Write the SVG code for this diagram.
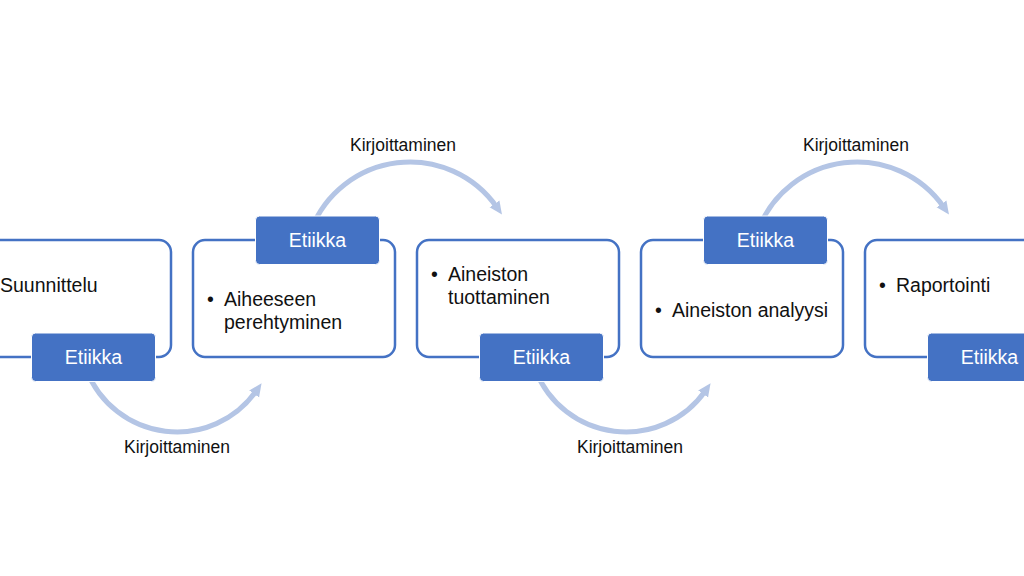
<svg xmlns="http://www.w3.org/2000/svg" width="1024" height="576" viewBox="0 0 1024 576">
<style>
.box{fill:#fff;stroke:#4472C4;stroke-width:2.5}
.tab{fill:#4472C4;stroke:#fff;stroke-width:1}
.tabt{font-family:"Liberation Sans",Arial,sans-serif;font-size:19.5px;fill:#fff;text-anchor:middle}
.t{font-family:"Liberation Sans",Arial,sans-serif;font-size:19.5px;fill:#111}
.lbl{font-family:"Liberation Sans",Arial,sans-serif;font-size:17.5px;fill:#111;text-anchor:middle}
.arc{fill:none;stroke:#B4C5E5;stroke-width:5}
</style>
<defs>
<marker id="ah" markerUnits="userSpaceOnUse" markerWidth="14" markerHeight="14" refX="4" refY="7" orient="auto">
<path d="M0,1 L13,7 L0,13 z" fill="#B4C5E5"/>
</marker>
</defs>
<rect width="1024" height="576" fill="#fff"/>
<g id="connectors">
<path class="arc" d="M311 230 A106 106 0 0 1 496.8 207.2" marker-end="url(#ah)"/>
<path class="arc" d="M758 230 A106 106 0 0 1 943.8 207.2" marker-end="url(#ah)"/>
<path class="arc" d="M86.5 370 A97 97 0 0 0 256.4 390.7" marker-end="url(#ah)"/>
<path class="arc" d="M535.5 370 A97 97 0 0 0 705.4 390.7" marker-end="url(#ah)"/>
<text class="lbl" x="403" y="151">Kirjoittaminen</text>
<text class="lbl" x="856" y="151">Kirjoittaminen</text>
<text class="lbl" x="177" y="453">Kirjoittaminen</text>
<text class="lbl" x="630" y="453">Kirjoittaminen</text>
</g>
<g id="node1">
<rect class="box" x="-31" y="240" width="202" height="117" rx="12"/>
<text class="t" x="0" y="292">Suunnittelu</text>
<rect class="tab" x="31.5" y="333" width="124" height="48.5" rx="4"/>
<text class="tabt" x="93.5" y="364">Etiikka</text>
</g>
<g id="node2">
<rect class="box" x="193" y="240" width="202" height="117" rx="12"/>
<text class="t" x="207" y="306">•</text>
<text class="t" x="224" y="306">Aiheeseen</text>
<text class="t" x="224" y="329">perehtyminen</text>
<rect class="tab" x="255.5" y="216" width="124" height="48.5" rx="4"/>
<text class="tabt" x="317.5" y="247">Etiikka</text>
</g>
<g id="node3">
<rect class="box" x="417" y="240" width="202" height="117" rx="12"/>
<text class="t" x="431" y="281">•</text>
<text class="t" x="448" y="281">Aineiston</text>
<text class="t" x="448" y="304">tuottaminen</text>
<rect class="tab" x="479.5" y="333" width="124" height="48.5" rx="4"/>
<text class="tabt" x="541.5" y="364">Etiikka</text>
</g>
<g id="node4">
<rect class="box" x="641" y="240" width="202" height="117" rx="12"/>
<text class="t" x="655" y="317">•</text>
<text class="t" x="672" y="317">Aineiston analyysi</text>
<rect class="tab" x="703.5" y="216" width="124" height="48.5" rx="4"/>
<text class="tabt" x="765.5" y="247">Etiikka</text>
</g>
<g id="node5">
<rect class="box" x="865" y="240" width="202" height="117" rx="12"/>
<text class="t" x="879" y="292">•</text>
<text class="t" x="896" y="292">Raportointi</text>
<rect class="tab" x="927.5" y="333" width="124" height="48.5" rx="4"/>
<text class="tabt" x="989.5" y="364">Etiikka</text>
</g>
</svg>
